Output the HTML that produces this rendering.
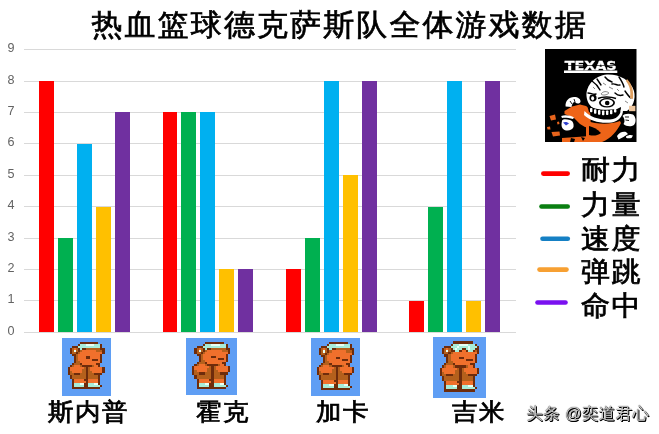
<!DOCTYPE html>
<html><head><meta charset="utf-8">
<style>
html,body{margin:0;padding:0;background:#fff;}
body{width:659px;height:434px;overflow:hidden;position:relative;font-family:"Liberation Sans","WenQuanYi Zen Hei","Noto Sans CJK SC",sans-serif;}
.abs{position:absolute;}
#title{position:absolute;left:91.5px;top:0px;transform:scaleY(0.97);transform-origin:50% 50%;font-size:31px;letter-spacing:2.1px;line-height:50px;color:#000;white-space:nowrap;font-family:"Liberation Sans","WenQuanYi Zen Hei","Noto Sans CJK SC",sans-serif;-webkit-text-stroke:0.7px #000;}
#chart{position:absolute;left:0;top:0;}
.sp{position:absolute;}
.cat{position:absolute;top:387px;transform:scaleY(0.94);transform-origin:50% 50%;font-size:25.5px;letter-spacing:1.5px;line-height:50px;color:#000;white-space:nowrap;font-family:"Liberation Sans","WenQuanYi Zen Hei","Noto Sans CJK SC",sans-serif;-webkit-text-stroke:0.8px #000;}
.leg{position:absolute;left:581px;transform:scaleY(0.95);transform-origin:50% 50%;font-size:29px;letter-spacing:1.5px;line-height:50px;color:#000;white-space:nowrap;font-family:"Liberation Sans","WenQuanYi Zen Hei","Noto Sans CJK SC",sans-serif;-webkit-text-stroke:0.8px #000;}
#wm{position:absolute;left:526.5px;top:400.5px;font-size:16.4px;letter-spacing:0.4px;line-height:24px;color:#c8c8c8;white-space:nowrap;font-family:"Liberation Sans","WenQuanYi Zen Hei","Noto Sans CJK SC",sans-serif;text-shadow:1px 1px 0 #000,0.5px 0.5px 0 #000,0 0 1px #000;}
</style></head><body>
<div id="title">热血篮球德克萨斯队全体游戏数据</div>
<svg id="chart" width="659" height="434" viewBox="0 0 659 434">
<g shape-rendering="crispEdges"><rect x="24" y="332" width="492" height="1" fill="#d9d9d9"/><rect x="24" y="300" width="492" height="1" fill="#d9d9d9"/><rect x="24" y="269" width="492" height="1" fill="#d9d9d9"/><rect x="24" y="238" width="492" height="1" fill="#d9d9d9"/><rect x="24" y="206" width="492" height="1" fill="#d9d9d9"/><rect x="24" y="175" width="492" height="1" fill="#d9d9d9"/><rect x="24" y="143" width="492" height="1" fill="#d9d9d9"/><rect x="24" y="112" width="492" height="1" fill="#d9d9d9"/><rect x="24" y="81" width="492" height="1" fill="#d9d9d9"/><rect x="24" y="49" width="492" height="1" fill="#d9d9d9"/>
<rect x="39" y="81" width="15" height="251" fill="#FF0000"/><rect x="58" y="238" width="15" height="94" fill="#00B050"/><rect x="77" y="144" width="15" height="188" fill="#00B0F0"/><rect x="96" y="207" width="15" height="125" fill="#FFC000"/><rect x="115" y="112" width="15" height="220" fill="#7030A0"/><rect x="163" y="112" width="14" height="220" fill="#FF0000"/><rect x="181" y="112" width="15" height="220" fill="#00B050"/><rect x="200" y="112" width="15" height="220" fill="#00B0F0"/><rect x="219" y="269" width="15" height="63" fill="#FFC000"/><rect x="238" y="269" width="15" height="63" fill="#7030A0"/><rect x="286" y="269" width="15" height="63" fill="#FF0000"/><rect x="305" y="238" width="15" height="94" fill="#00B050"/><rect x="324" y="81" width="15" height="251" fill="#00B0F0"/><rect x="343" y="175" width="15" height="157" fill="#FFC000"/><rect x="362" y="81" width="15" height="251" fill="#7030A0"/><rect x="409" y="301" width="15" height="31" fill="#FF0000"/><rect x="428" y="207" width="15" height="125" fill="#00B050"/><rect x="447" y="81" width="15" height="251" fill="#00B0F0"/><rect x="466" y="301" width="15" height="31" fill="#FFC000"/><rect x="485" y="81" width="15" height="251" fill="#7030A0"/></g>
<g font-family="Liberation Sans, sans-serif" font-size="12.6" fill="#636363"><text x="14.6" y="335.00" text-anchor="end">0</text><text x="14.6" y="303.00" text-anchor="end">1</text><text x="14.6" y="272.00" text-anchor="end">2</text><text x="14.6" y="241.00" text-anchor="end">3</text><text x="14.6" y="209.00" text-anchor="end">4</text><text x="14.6" y="178.00" text-anchor="end">5</text><text x="14.6" y="146.00" text-anchor="end">6</text><text x="14.6" y="115.00" text-anchor="end">7</text><text x="14.6" y="84.00" text-anchor="end">8</text><text x="14.6" y="52.00" text-anchor="end">9</text></g>
<g stroke-linecap="round" stroke-width="4.6" fill="none">
<line x1="543.3" y1="173.6" x2="567.7" y2="173.6" stroke="#ff0000"/>
<line x1="541.5" y1="206.5" x2="567.7" y2="206.5" stroke="#0a7f12"/>
<line x1="542.5" y1="238.7" x2="567.8" y2="238.7" stroke="#1580c4"/>
<line x1="539.5" y1="269.6" x2="566.5" y2="269.6" stroke="#f7a032"/>
<line x1="537.5" y1="302.5" x2="565.5" y2="302.5" stroke="#7a10f0"/>
</g>
</svg>
<svg class="sp" style="left:62.3px;top:338px;width:48.6px;height:57.5px" viewBox="0 0 24 28" preserveAspectRatio="none" shape-rendering="crispEdges"><rect width="24" height="28" fill="#5f9ef4"/><rect x="9" y="2" width="9" height="1" fill="#6e2c0c"/><rect x="8" y="3" width="1" height="1" fill="#6e2c0c"/><rect x="9" y="3" width="3" height="1" fill="#a8ecd8"/><rect x="12" y="3" width="4" height="1" fill="#e8fff4"/><rect x="16" y="3" width="3" height="1" fill="#a8ecd8"/><rect x="19" y="3" width="1" height="1" fill="#6e2c0c"/><rect x="5" y="4" width="3" height="1" fill="#6e2c0c"/><rect x="8" y="4" width="11" height="1" fill="#a8ecd8"/><rect x="19" y="4" width="1" height="1" fill="#6e2c0c"/><rect x="4" y="5" width="1" height="1" fill="#6e2c0c"/><rect x="5" y="5" width="1" height="1" fill="#b4601c"/><rect x="6" y="5" width="1" height="1" fill="#f0702c"/><rect x="7" y="5" width="1" height="1" fill="#b4601c"/><rect x="8" y="5" width="1" height="1" fill="#6e2c0c"/><rect x="9" y="5" width="1" height="1" fill="#a8ecd8"/><rect x="10" y="5" width="2" height="1" fill="#6e2c0c"/><rect x="12" y="5" width="7" height="1" fill="#b4601c"/><rect x="19" y="5" width="2" height="1" fill="#6e2c0c"/><rect x="4" y="6" width="1" height="1" fill="#6e2c0c"/><rect x="5" y="6" width="1" height="1" fill="#b4601c"/><rect x="6" y="6" width="1" height="1" fill="#e8fff4"/><rect x="7" y="6" width="1" height="1" fill="#b4601c"/><rect x="8" y="6" width="1" height="1" fill="#6e2c0c"/><rect x="9" y="6" width="1" height="1" fill="#b4601c"/><rect x="10" y="6" width="7" height="1" fill="#f0702c"/><rect x="17" y="6" width="3" height="1" fill="#b4601c"/><rect x="20" y="6" width="1" height="1" fill="#6e2c0c"/><rect x="4" y="7" width="1" height="1" fill="#6e2c0c"/><rect x="5" y="7" width="2" height="1" fill="#b4601c"/><rect x="7" y="7" width="1" height="1" fill="#6e2c0c"/><rect x="8" y="7" width="1" height="1" fill="#b4601c"/><rect x="9" y="7" width="11" height="1" fill="#f0702c"/><rect x="20" y="7" width="1" height="1" fill="#6e2c0c"/><rect x="5" y="8" width="2" height="1" fill="#6e2c0c"/><rect x="7" y="8" width="1" height="1" fill="#b4601c"/><rect x="8" y="8" width="11" height="1" fill="#f0702c"/><rect x="19" y="8" width="1" height="1" fill="#6e2c0c"/><rect x="6" y="9" width="1" height="1" fill="#6e2c0c"/><rect x="7" y="9" width="1" height="1" fill="#b4601c"/><rect x="8" y="9" width="4" height="1" fill="#f0702c"/><rect x="12" y="9" width="2" height="1" fill="#6e2c0c"/><rect x="14" y="9" width="5" height="1" fill="#f0702c"/><rect x="19" y="9" width="1" height="1" fill="#6e2c0c"/><rect x="6" y="10" width="1" height="1" fill="#6e2c0c"/><rect x="7" y="10" width="1" height="1" fill="#b4601c"/><rect x="8" y="10" width="7" height="1" fill="#f0702c"/><rect x="15" y="10" width="3" height="1" fill="#6e2c0c"/><rect x="18" y="10" width="1" height="1" fill="#f0702c"/><rect x="19" y="10" width="1" height="1" fill="#6e2c0c"/><rect x="6" y="11" width="1" height="1" fill="#6e2c0c"/><rect x="7" y="11" width="2" height="1" fill="#b4601c"/><rect x="9" y="11" width="10" height="1" fill="#f0702c"/><rect x="19" y="11" width="1" height="1" fill="#6e2c0c"/><rect x="5" y="12" width="1" height="1" fill="#6e2c0c"/><rect x="6" y="12" width="3" height="1" fill="#b4601c"/><rect x="9" y="12" width="1" height="1" fill="#6e2c0c"/><rect x="10" y="12" width="7" height="1" fill="#f0702c"/><rect x="17" y="12" width="2" height="1" fill="#6e2c0c"/><rect x="4" y="13" width="1" height="1" fill="#6e2c0c"/><rect x="5" y="13" width="1" height="1" fill="#b4601c"/><rect x="6" y="13" width="3" height="1" fill="#f0702c"/><rect x="9" y="13" width="1" height="1" fill="#b4601c"/><rect x="10" y="13" width="5" height="1" fill="#6e2c0c"/><rect x="15" y="13" width="1" height="1" fill="#b4601c"/><rect x="16" y="13" width="2" height="1" fill="#f0702c"/><rect x="18" y="13" width="1" height="1" fill="#6e2c0c"/><rect x="3" y="14" width="1" height="1" fill="#6e2c0c"/><rect x="4" y="14" width="7" height="1" fill="#f0702c"/><rect x="11" y="14" width="1" height="1" fill="#b4601c"/><rect x="12" y="14" width="1" height="1" fill="#6e2c0c"/><rect x="13" y="14" width="1" height="1" fill="#b4601c"/><rect x="14" y="14" width="6" height="1" fill="#f0702c"/><rect x="20" y="14" width="1" height="1" fill="#6e2c0c"/><rect x="3" y="15" width="1" height="1" fill="#6e2c0c"/><rect x="4" y="15" width="6" height="1" fill="#f0702c"/><rect x="10" y="15" width="2" height="1" fill="#b4601c"/><rect x="12" y="15" width="1" height="1" fill="#6e2c0c"/><rect x="13" y="15" width="1" height="1" fill="#b4601c"/><rect x="14" y="15" width="6" height="1" fill="#f0702c"/><rect x="20" y="15" width="1" height="1" fill="#6e2c0c"/><rect x="3" y="16" width="1" height="1" fill="#6e2c0c"/><rect x="4" y="16" width="1" height="1" fill="#b4601c"/><rect x="5" y="16" width="5" height="1" fill="#f0702c"/><rect x="10" y="16" width="2" height="1" fill="#b4601c"/><rect x="12" y="16" width="1" height="1" fill="#6e2c0c"/><rect x="13" y="16" width="2" height="1" fill="#b4601c"/><rect x="15" y="16" width="5" height="1" fill="#f0702c"/><rect x="20" y="16" width="1" height="1" fill="#6e2c0c"/><rect x="3" y="17" width="1" height="1" fill="#6e2c0c"/><rect x="4" y="17" width="2" height="1" fill="#b4601c"/><rect x="6" y="17" width="3" height="1" fill="#6e2c0c"/><rect x="9" y="17" width="3" height="1" fill="#b4601c"/><rect x="12" y="17" width="1" height="1" fill="#6e2c0c"/><rect x="13" y="17" width="3" height="1" fill="#b4601c"/><rect x="16" y="17" width="4" height="1" fill="#6e2c0c"/><rect x="4" y="18" width="1" height="1" fill="#6e2c0c"/><rect x="5" y="18" width="7" height="1" fill="#b4601c"/><rect x="12" y="18" width="1" height="1" fill="#6e2c0c"/><rect x="13" y="18" width="5" height="1" fill="#b4601c"/><rect x="18" y="18" width="1" height="1" fill="#6e2c0c"/><rect x="4" y="19" width="1" height="1" fill="#6e2c0c"/><rect x="5" y="19" width="7" height="1" fill="#b4601c"/><rect x="12" y="19" width="1" height="1" fill="#6e2c0c"/><rect x="13" y="19" width="5" height="1" fill="#b4601c"/><rect x="18" y="19" width="1" height="1" fill="#6e2c0c"/><rect x="5" y="20" width="1" height="1" fill="#6e2c0c"/><rect x="6" y="20" width="5" height="1" fill="#f0702c"/><rect x="11" y="20" width="2" height="1" fill="#6e2c0c"/><rect x="13" y="20" width="5" height="1" fill="#f0702c"/><rect x="18" y="20" width="1" height="1" fill="#6e2c0c"/><rect x="5" y="21" width="1" height="1" fill="#6e2c0c"/><rect x="6" y="21" width="6" height="1" fill="#f0702c"/><rect x="12" y="21" width="1" height="1" fill="#6e2c0c"/><rect x="13" y="21" width="5" height="1" fill="#f0702c"/><rect x="18" y="21" width="1" height="1" fill="#6e2c0c"/><rect x="5" y="22" width="1" height="1" fill="#6e2c0c"/><rect x="6" y="22" width="3" height="1" fill="#a8ecd8"/><rect x="9" y="22" width="2" height="1" fill="#e8fff4"/><rect x="11" y="22" width="2" height="1" fill="#6e2c0c"/><rect x="13" y="22" width="3" height="1" fill="#a8ecd8"/><rect x="16" y="22" width="2" height="1" fill="#e8fff4"/><rect x="18" y="22" width="1" height="1" fill="#6e2c0c"/><rect x="5" y="23" width="1" height="1" fill="#6e2c0c"/><rect x="6" y="23" width="5" height="1" fill="#a8ecd8"/><rect x="11" y="23" width="2" height="1" fill="#6e2c0c"/><rect x="13" y="23" width="6" height="1" fill="#a8ecd8"/><rect x="19" y="23" width="1" height="1" fill="#6e2c0c"/><rect x="5" y="24" width="14" height="1" fill="#6e2c0c"/></svg><svg class="sp" style="left:186px;top:338px;width:50.8px;height:56.8px" viewBox="0 0 24 28" preserveAspectRatio="none" shape-rendering="crispEdges"><rect width="24" height="28" fill="#5f9ef4"/><rect x="9" y="2" width="9" height="1" fill="#6e2c0c"/><rect x="8" y="3" width="1" height="1" fill="#6e2c0c"/><rect x="9" y="3" width="3" height="1" fill="#a8ecd8"/><rect x="12" y="3" width="4" height="1" fill="#e8fff4"/><rect x="16" y="3" width="3" height="1" fill="#a8ecd8"/><rect x="19" y="3" width="1" height="1" fill="#6e2c0c"/><rect x="5" y="4" width="3" height="1" fill="#6e2c0c"/><rect x="8" y="4" width="11" height="1" fill="#a8ecd8"/><rect x="19" y="4" width="1" height="1" fill="#6e2c0c"/><rect x="4" y="5" width="1" height="1" fill="#6e2c0c"/><rect x="5" y="5" width="1" height="1" fill="#b4601c"/><rect x="6" y="5" width="1" height="1" fill="#f0702c"/><rect x="7" y="5" width="1" height="1" fill="#b4601c"/><rect x="8" y="5" width="1" height="1" fill="#6e2c0c"/><rect x="9" y="5" width="1" height="1" fill="#a8ecd8"/><rect x="10" y="5" width="2" height="1" fill="#6e2c0c"/><rect x="12" y="5" width="7" height="1" fill="#b4601c"/><rect x="19" y="5" width="2" height="1" fill="#6e2c0c"/><rect x="4" y="6" width="1" height="1" fill="#6e2c0c"/><rect x="5" y="6" width="1" height="1" fill="#b4601c"/><rect x="6" y="6" width="1" height="1" fill="#e8fff4"/><rect x="7" y="6" width="1" height="1" fill="#b4601c"/><rect x="8" y="6" width="1" height="1" fill="#6e2c0c"/><rect x="9" y="6" width="1" height="1" fill="#b4601c"/><rect x="10" y="6" width="7" height="1" fill="#f0702c"/><rect x="17" y="6" width="3" height="1" fill="#b4601c"/><rect x="20" y="6" width="1" height="1" fill="#6e2c0c"/><rect x="4" y="7" width="1" height="1" fill="#6e2c0c"/><rect x="5" y="7" width="2" height="1" fill="#b4601c"/><rect x="7" y="7" width="1" height="1" fill="#6e2c0c"/><rect x="8" y="7" width="1" height="1" fill="#b4601c"/><rect x="9" y="7" width="11" height="1" fill="#f0702c"/><rect x="20" y="7" width="1" height="1" fill="#6e2c0c"/><rect x="5" y="8" width="2" height="1" fill="#6e2c0c"/><rect x="7" y="8" width="1" height="1" fill="#b4601c"/><rect x="8" y="8" width="11" height="1" fill="#f0702c"/><rect x="19" y="8" width="1" height="1" fill="#6e2c0c"/><rect x="6" y="9" width="1" height="1" fill="#6e2c0c"/><rect x="7" y="9" width="1" height="1" fill="#b4601c"/><rect x="8" y="9" width="4" height="1" fill="#f0702c"/><rect x="12" y="9" width="2" height="1" fill="#6e2c0c"/><rect x="14" y="9" width="5" height="1" fill="#f0702c"/><rect x="19" y="9" width="1" height="1" fill="#6e2c0c"/><rect x="6" y="10" width="1" height="1" fill="#6e2c0c"/><rect x="7" y="10" width="1" height="1" fill="#b4601c"/><rect x="8" y="10" width="7" height="1" fill="#f0702c"/><rect x="15" y="10" width="3" height="1" fill="#6e2c0c"/><rect x="18" y="10" width="1" height="1" fill="#f0702c"/><rect x="19" y="10" width="1" height="1" fill="#6e2c0c"/><rect x="6" y="11" width="1" height="1" fill="#6e2c0c"/><rect x="7" y="11" width="2" height="1" fill="#b4601c"/><rect x="9" y="11" width="10" height="1" fill="#f0702c"/><rect x="19" y="11" width="1" height="1" fill="#6e2c0c"/><rect x="5" y="12" width="1" height="1" fill="#6e2c0c"/><rect x="6" y="12" width="3" height="1" fill="#b4601c"/><rect x="9" y="12" width="1" height="1" fill="#6e2c0c"/><rect x="10" y="12" width="7" height="1" fill="#f0702c"/><rect x="17" y="12" width="2" height="1" fill="#6e2c0c"/><rect x="4" y="13" width="1" height="1" fill="#6e2c0c"/><rect x="5" y="13" width="1" height="1" fill="#b4601c"/><rect x="6" y="13" width="3" height="1" fill="#f0702c"/><rect x="9" y="13" width="1" height="1" fill="#b4601c"/><rect x="10" y="13" width="5" height="1" fill="#6e2c0c"/><rect x="15" y="13" width="1" height="1" fill="#b4601c"/><rect x="16" y="13" width="2" height="1" fill="#f0702c"/><rect x="18" y="13" width="1" height="1" fill="#6e2c0c"/><rect x="3" y="14" width="1" height="1" fill="#6e2c0c"/><rect x="4" y="14" width="7" height="1" fill="#f0702c"/><rect x="11" y="14" width="1" height="1" fill="#b4601c"/><rect x="12" y="14" width="1" height="1" fill="#6e2c0c"/><rect x="13" y="14" width="1" height="1" fill="#b4601c"/><rect x="14" y="14" width="6" height="1" fill="#f0702c"/><rect x="20" y="14" width="1" height="1" fill="#6e2c0c"/><rect x="3" y="15" width="1" height="1" fill="#6e2c0c"/><rect x="4" y="15" width="6" height="1" fill="#f0702c"/><rect x="10" y="15" width="2" height="1" fill="#b4601c"/><rect x="12" y="15" width="1" height="1" fill="#6e2c0c"/><rect x="13" y="15" width="1" height="1" fill="#b4601c"/><rect x="14" y="15" width="6" height="1" fill="#f0702c"/><rect x="20" y="15" width="1" height="1" fill="#6e2c0c"/><rect x="3" y="16" width="1" height="1" fill="#6e2c0c"/><rect x="4" y="16" width="1" height="1" fill="#b4601c"/><rect x="5" y="16" width="5" height="1" fill="#f0702c"/><rect x="10" y="16" width="2" height="1" fill="#b4601c"/><rect x="12" y="16" width="1" height="1" fill="#6e2c0c"/><rect x="13" y="16" width="2" height="1" fill="#b4601c"/><rect x="15" y="16" width="5" height="1" fill="#f0702c"/><rect x="20" y="16" width="1" height="1" fill="#6e2c0c"/><rect x="3" y="17" width="1" height="1" fill="#6e2c0c"/><rect x="4" y="17" width="2" height="1" fill="#b4601c"/><rect x="6" y="17" width="3" height="1" fill="#6e2c0c"/><rect x="9" y="17" width="3" height="1" fill="#b4601c"/><rect x="12" y="17" width="1" height="1" fill="#6e2c0c"/><rect x="13" y="17" width="3" height="1" fill="#b4601c"/><rect x="16" y="17" width="4" height="1" fill="#6e2c0c"/><rect x="4" y="18" width="1" height="1" fill="#6e2c0c"/><rect x="5" y="18" width="7" height="1" fill="#b4601c"/><rect x="12" y="18" width="1" height="1" fill="#6e2c0c"/><rect x="13" y="18" width="5" height="1" fill="#b4601c"/><rect x="18" y="18" width="1" height="1" fill="#6e2c0c"/><rect x="4" y="19" width="1" height="1" fill="#6e2c0c"/><rect x="5" y="19" width="7" height="1" fill="#b4601c"/><rect x="12" y="19" width="1" height="1" fill="#6e2c0c"/><rect x="13" y="19" width="5" height="1" fill="#b4601c"/><rect x="18" y="19" width="1" height="1" fill="#6e2c0c"/><rect x="5" y="20" width="1" height="1" fill="#6e2c0c"/><rect x="6" y="20" width="5" height="1" fill="#f0702c"/><rect x="11" y="20" width="2" height="1" fill="#6e2c0c"/><rect x="13" y="20" width="5" height="1" fill="#f0702c"/><rect x="18" y="20" width="1" height="1" fill="#6e2c0c"/><rect x="5" y="21" width="1" height="1" fill="#6e2c0c"/><rect x="6" y="21" width="6" height="1" fill="#f0702c"/><rect x="12" y="21" width="1" height="1" fill="#6e2c0c"/><rect x="13" y="21" width="5" height="1" fill="#f0702c"/><rect x="18" y="21" width="1" height="1" fill="#6e2c0c"/><rect x="5" y="22" width="1" height="1" fill="#6e2c0c"/><rect x="6" y="22" width="3" height="1" fill="#a8ecd8"/><rect x="9" y="22" width="2" height="1" fill="#e8fff4"/><rect x="11" y="22" width="2" height="1" fill="#6e2c0c"/><rect x="13" y="22" width="3" height="1" fill="#a8ecd8"/><rect x="16" y="22" width="2" height="1" fill="#e8fff4"/><rect x="18" y="22" width="1" height="1" fill="#6e2c0c"/><rect x="5" y="23" width="1" height="1" fill="#6e2c0c"/><rect x="6" y="23" width="5" height="1" fill="#a8ecd8"/><rect x="11" y="23" width="2" height="1" fill="#6e2c0c"/><rect x="13" y="23" width="6" height="1" fill="#a8ecd8"/><rect x="19" y="23" width="1" height="1" fill="#6e2c0c"/><rect x="5" y="24" width="14" height="1" fill="#6e2c0c"/></svg><svg class="sp" style="left:311.4px;top:338px;width:49.3px;height:58.3px" viewBox="0 0 24 28" preserveAspectRatio="none" shape-rendering="crispEdges"><rect width="24" height="28" fill="#5f9ef4"/><rect x="9" y="2" width="9" height="1" fill="#6e2c0c"/><rect x="8" y="3" width="1" height="1" fill="#6e2c0c"/><rect x="9" y="3" width="3" height="1" fill="#a8ecd8"/><rect x="12" y="3" width="4" height="1" fill="#e8fff4"/><rect x="16" y="3" width="3" height="1" fill="#a8ecd8"/><rect x="19" y="3" width="1" height="1" fill="#6e2c0c"/><rect x="5" y="4" width="3" height="1" fill="#6e2c0c"/><rect x="8" y="4" width="11" height="1" fill="#a8ecd8"/><rect x="19" y="4" width="1" height="1" fill="#6e2c0c"/><rect x="4" y="5" width="1" height="1" fill="#6e2c0c"/><rect x="5" y="5" width="1" height="1" fill="#b4601c"/><rect x="6" y="5" width="1" height="1" fill="#f0702c"/><rect x="7" y="5" width="1" height="1" fill="#b4601c"/><rect x="8" y="5" width="1" height="1" fill="#6e2c0c"/><rect x="9" y="5" width="1" height="1" fill="#a8ecd8"/><rect x="10" y="5" width="2" height="1" fill="#6e2c0c"/><rect x="12" y="5" width="7" height="1" fill="#b4601c"/><rect x="19" y="5" width="2" height="1" fill="#6e2c0c"/><rect x="4" y="6" width="1" height="1" fill="#6e2c0c"/><rect x="5" y="6" width="1" height="1" fill="#b4601c"/><rect x="6" y="6" width="1" height="1" fill="#e8fff4"/><rect x="7" y="6" width="1" height="1" fill="#b4601c"/><rect x="8" y="6" width="1" height="1" fill="#6e2c0c"/><rect x="9" y="6" width="1" height="1" fill="#b4601c"/><rect x="10" y="6" width="7" height="1" fill="#f0702c"/><rect x="17" y="6" width="3" height="1" fill="#b4601c"/><rect x="20" y="6" width="1" height="1" fill="#6e2c0c"/><rect x="4" y="7" width="1" height="1" fill="#6e2c0c"/><rect x="5" y="7" width="2" height="1" fill="#b4601c"/><rect x="7" y="7" width="1" height="1" fill="#6e2c0c"/><rect x="8" y="7" width="1" height="1" fill="#b4601c"/><rect x="9" y="7" width="11" height="1" fill="#f0702c"/><rect x="20" y="7" width="1" height="1" fill="#6e2c0c"/><rect x="5" y="8" width="2" height="1" fill="#6e2c0c"/><rect x="7" y="8" width="1" height="1" fill="#b4601c"/><rect x="8" y="8" width="11" height="1" fill="#f0702c"/><rect x="19" y="8" width="1" height="1" fill="#6e2c0c"/><rect x="6" y="9" width="1" height="1" fill="#6e2c0c"/><rect x="7" y="9" width="1" height="1" fill="#b4601c"/><rect x="8" y="9" width="4" height="1" fill="#f0702c"/><rect x="12" y="9" width="2" height="1" fill="#6e2c0c"/><rect x="14" y="9" width="5" height="1" fill="#f0702c"/><rect x="19" y="9" width="1" height="1" fill="#6e2c0c"/><rect x="6" y="10" width="1" height="1" fill="#6e2c0c"/><rect x="7" y="10" width="1" height="1" fill="#b4601c"/><rect x="8" y="10" width="7" height="1" fill="#f0702c"/><rect x="15" y="10" width="3" height="1" fill="#6e2c0c"/><rect x="18" y="10" width="1" height="1" fill="#f0702c"/><rect x="19" y="10" width="1" height="1" fill="#6e2c0c"/><rect x="6" y="11" width="1" height="1" fill="#6e2c0c"/><rect x="7" y="11" width="2" height="1" fill="#b4601c"/><rect x="9" y="11" width="10" height="1" fill="#f0702c"/><rect x="19" y="11" width="1" height="1" fill="#6e2c0c"/><rect x="5" y="12" width="1" height="1" fill="#6e2c0c"/><rect x="6" y="12" width="3" height="1" fill="#b4601c"/><rect x="9" y="12" width="1" height="1" fill="#6e2c0c"/><rect x="10" y="12" width="7" height="1" fill="#f0702c"/><rect x="17" y="12" width="2" height="1" fill="#6e2c0c"/><rect x="4" y="13" width="1" height="1" fill="#6e2c0c"/><rect x="5" y="13" width="1" height="1" fill="#b4601c"/><rect x="6" y="13" width="3" height="1" fill="#f0702c"/><rect x="9" y="13" width="1" height="1" fill="#b4601c"/><rect x="10" y="13" width="5" height="1" fill="#6e2c0c"/><rect x="15" y="13" width="1" height="1" fill="#b4601c"/><rect x="16" y="13" width="2" height="1" fill="#f0702c"/><rect x="18" y="13" width="1" height="1" fill="#6e2c0c"/><rect x="3" y="14" width="1" height="1" fill="#6e2c0c"/><rect x="4" y="14" width="7" height="1" fill="#f0702c"/><rect x="11" y="14" width="1" height="1" fill="#b4601c"/><rect x="12" y="14" width="1" height="1" fill="#6e2c0c"/><rect x="13" y="14" width="1" height="1" fill="#b4601c"/><rect x="14" y="14" width="6" height="1" fill="#f0702c"/><rect x="20" y="14" width="1" height="1" fill="#6e2c0c"/><rect x="3" y="15" width="1" height="1" fill="#6e2c0c"/><rect x="4" y="15" width="6" height="1" fill="#f0702c"/><rect x="10" y="15" width="2" height="1" fill="#b4601c"/><rect x="12" y="15" width="1" height="1" fill="#6e2c0c"/><rect x="13" y="15" width="1" height="1" fill="#b4601c"/><rect x="14" y="15" width="6" height="1" fill="#f0702c"/><rect x="20" y="15" width="1" height="1" fill="#6e2c0c"/><rect x="3" y="16" width="1" height="1" fill="#6e2c0c"/><rect x="4" y="16" width="1" height="1" fill="#b4601c"/><rect x="5" y="16" width="5" height="1" fill="#f0702c"/><rect x="10" y="16" width="2" height="1" fill="#b4601c"/><rect x="12" y="16" width="1" height="1" fill="#6e2c0c"/><rect x="13" y="16" width="2" height="1" fill="#b4601c"/><rect x="15" y="16" width="5" height="1" fill="#f0702c"/><rect x="20" y="16" width="1" height="1" fill="#6e2c0c"/><rect x="3" y="17" width="1" height="1" fill="#6e2c0c"/><rect x="4" y="17" width="2" height="1" fill="#b4601c"/><rect x="6" y="17" width="3" height="1" fill="#6e2c0c"/><rect x="9" y="17" width="3" height="1" fill="#b4601c"/><rect x="12" y="17" width="1" height="1" fill="#6e2c0c"/><rect x="13" y="17" width="3" height="1" fill="#b4601c"/><rect x="16" y="17" width="4" height="1" fill="#6e2c0c"/><rect x="4" y="18" width="1" height="1" fill="#6e2c0c"/><rect x="5" y="18" width="7" height="1" fill="#b4601c"/><rect x="12" y="18" width="1" height="1" fill="#6e2c0c"/><rect x="13" y="18" width="5" height="1" fill="#b4601c"/><rect x="18" y="18" width="1" height="1" fill="#6e2c0c"/><rect x="4" y="19" width="1" height="1" fill="#6e2c0c"/><rect x="5" y="19" width="7" height="1" fill="#b4601c"/><rect x="12" y="19" width="1" height="1" fill="#6e2c0c"/><rect x="13" y="19" width="5" height="1" fill="#b4601c"/><rect x="18" y="19" width="1" height="1" fill="#6e2c0c"/><rect x="5" y="20" width="1" height="1" fill="#6e2c0c"/><rect x="6" y="20" width="5" height="1" fill="#f0702c"/><rect x="11" y="20" width="2" height="1" fill="#6e2c0c"/><rect x="13" y="20" width="5" height="1" fill="#f0702c"/><rect x="18" y="20" width="1" height="1" fill="#6e2c0c"/><rect x="5" y="21" width="1" height="1" fill="#6e2c0c"/><rect x="6" y="21" width="6" height="1" fill="#f0702c"/><rect x="12" y="21" width="1" height="1" fill="#6e2c0c"/><rect x="13" y="21" width="5" height="1" fill="#f0702c"/><rect x="18" y="21" width="1" height="1" fill="#6e2c0c"/><rect x="5" y="22" width="1" height="1" fill="#6e2c0c"/><rect x="6" y="22" width="3" height="1" fill="#a8ecd8"/><rect x="9" y="22" width="2" height="1" fill="#e8fff4"/><rect x="11" y="22" width="2" height="1" fill="#6e2c0c"/><rect x="13" y="22" width="3" height="1" fill="#a8ecd8"/><rect x="16" y="22" width="2" height="1" fill="#e8fff4"/><rect x="18" y="22" width="1" height="1" fill="#6e2c0c"/><rect x="5" y="23" width="1" height="1" fill="#6e2c0c"/><rect x="6" y="23" width="5" height="1" fill="#a8ecd8"/><rect x="11" y="23" width="2" height="1" fill="#6e2c0c"/><rect x="13" y="23" width="6" height="1" fill="#a8ecd8"/><rect x="19" y="23" width="1" height="1" fill="#6e2c0c"/><rect x="5" y="24" width="14" height="1" fill="#6e2c0c"/></svg><svg class="sp" style="left:433px;top:336.6px;width:52.7px;height:61.1px" viewBox="0 0 24 28" preserveAspectRatio="none" shape-rendering="crispEdges"><rect width="24" height="28" fill="#5f9ef4"/><rect x="9" y="2" width="9" height="1" fill="#6e2c0c"/><rect x="8" y="3" width="1" height="1" fill="#6e2c0c"/><rect x="9" y="3" width="3" height="1" fill="#a8ecd8"/><rect x="12" y="3" width="4" height="1" fill="#e8fff4"/><rect x="16" y="3" width="3" height="1" fill="#a8ecd8"/><rect x="19" y="3" width="1" height="1" fill="#6e2c0c"/><rect x="5" y="4" width="3" height="1" fill="#6e2c0c"/><rect x="8" y="4" width="3" height="1" fill="#a8ecd8"/><rect x="11" y="4" width="1" height="1" fill="#e8fff4"/><rect x="12" y="4" width="4" height="1" fill="#a8ecd8"/><rect x="16" y="4" width="1" height="1" fill="#e8fff4"/><rect x="17" y="4" width="3" height="1" fill="#a8ecd8"/><rect x="20" y="4" width="1" height="1" fill="#6e2c0c"/><rect x="4" y="5" width="1" height="1" fill="#6e2c0c"/><rect x="5" y="5" width="1" height="1" fill="#b4601c"/><rect x="6" y="5" width="1" height="1" fill="#f0702c"/><rect x="7" y="5" width="1" height="1" fill="#b4601c"/><rect x="8" y="5" width="1" height="1" fill="#6e2c0c"/><rect x="9" y="5" width="1" height="1" fill="#a8ecd8"/><rect x="10" y="5" width="1" height="1" fill="#e8fff4"/><rect x="11" y="5" width="2" height="1" fill="#a8ecd8"/><rect x="13" y="5" width="2" height="1" fill="#6e2c0c"/><rect x="15" y="5" width="1" height="1" fill="#a8ecd8"/><rect x="16" y="5" width="1" height="1" fill="#e8fff4"/><rect x="17" y="5" width="2" height="1" fill="#a8ecd8"/><rect x="19" y="5" width="2" height="1" fill="#6e2c0c"/><rect x="4" y="6" width="1" height="1" fill="#6e2c0c"/><rect x="5" y="6" width="1" height="1" fill="#b4601c"/><rect x="6" y="6" width="1" height="1" fill="#e8fff4"/><rect x="7" y="6" width="1" height="1" fill="#b4601c"/><rect x="8" y="6" width="2" height="1" fill="#6e2c0c"/><rect x="10" y="6" width="2" height="1" fill="#a8ecd8"/><rect x="12" y="6" width="1" height="1" fill="#6e2c0c"/><rect x="13" y="6" width="2" height="1" fill="#f0702c"/><rect x="15" y="6" width="1" height="1" fill="#6e2c0c"/><rect x="16" y="6" width="2" height="1" fill="#a8ecd8"/><rect x="18" y="6" width="1" height="1" fill="#6e2c0c"/><rect x="19" y="6" width="1" height="1" fill="#b4601c"/><rect x="20" y="6" width="1" height="1" fill="#6e2c0c"/><rect x="4" y="7" width="1" height="1" fill="#6e2c0c"/><rect x="5" y="7" width="2" height="1" fill="#b4601c"/><rect x="7" y="7" width="1" height="1" fill="#6e2c0c"/><rect x="8" y="7" width="1" height="1" fill="#b4601c"/><rect x="9" y="7" width="11" height="1" fill="#f0702c"/><rect x="20" y="7" width="1" height="1" fill="#6e2c0c"/><rect x="5" y="8" width="2" height="1" fill="#6e2c0c"/><rect x="7" y="8" width="1" height="1" fill="#b4601c"/><rect x="8" y="8" width="11" height="1" fill="#f0702c"/><rect x="19" y="8" width="1" height="1" fill="#6e2c0c"/><rect x="6" y="9" width="1" height="1" fill="#6e2c0c"/><rect x="7" y="9" width="1" height="1" fill="#b4601c"/><rect x="8" y="9" width="4" height="1" fill="#f0702c"/><rect x="12" y="9" width="2" height="1" fill="#6e2c0c"/><rect x="14" y="9" width="5" height="1" fill="#f0702c"/><rect x="19" y="9" width="1" height="1" fill="#6e2c0c"/><rect x="6" y="10" width="1" height="1" fill="#6e2c0c"/><rect x="7" y="10" width="1" height="1" fill="#b4601c"/><rect x="8" y="10" width="7" height="1" fill="#f0702c"/><rect x="15" y="10" width="3" height="1" fill="#6e2c0c"/><rect x="18" y="10" width="1" height="1" fill="#f0702c"/><rect x="19" y="10" width="1" height="1" fill="#6e2c0c"/><rect x="6" y="11" width="1" height="1" fill="#6e2c0c"/><rect x="7" y="11" width="2" height="1" fill="#b4601c"/><rect x="9" y="11" width="10" height="1" fill="#f0702c"/><rect x="19" y="11" width="1" height="1" fill="#6e2c0c"/><rect x="5" y="12" width="1" height="1" fill="#6e2c0c"/><rect x="6" y="12" width="3" height="1" fill="#b4601c"/><rect x="9" y="12" width="1" height="1" fill="#6e2c0c"/><rect x="10" y="12" width="7" height="1" fill="#f0702c"/><rect x="17" y="12" width="2" height="1" fill="#6e2c0c"/><rect x="4" y="13" width="1" height="1" fill="#6e2c0c"/><rect x="5" y="13" width="1" height="1" fill="#b4601c"/><rect x="6" y="13" width="3" height="1" fill="#f0702c"/><rect x="9" y="13" width="1" height="1" fill="#b4601c"/><rect x="10" y="13" width="5" height="1" fill="#6e2c0c"/><rect x="15" y="13" width="1" height="1" fill="#b4601c"/><rect x="16" y="13" width="2" height="1" fill="#f0702c"/><rect x="18" y="13" width="1" height="1" fill="#6e2c0c"/><rect x="3" y="14" width="1" height="1" fill="#6e2c0c"/><rect x="4" y="14" width="7" height="1" fill="#f0702c"/><rect x="11" y="14" width="1" height="1" fill="#b4601c"/><rect x="12" y="14" width="1" height="1" fill="#6e2c0c"/><rect x="13" y="14" width="1" height="1" fill="#b4601c"/><rect x="14" y="14" width="6" height="1" fill="#f0702c"/><rect x="20" y="14" width="1" height="1" fill="#6e2c0c"/><rect x="3" y="15" width="1" height="1" fill="#6e2c0c"/><rect x="4" y="15" width="6" height="1" fill="#f0702c"/><rect x="10" y="15" width="2" height="1" fill="#b4601c"/><rect x="12" y="15" width="1" height="1" fill="#6e2c0c"/><rect x="13" y="15" width="1" height="1" fill="#b4601c"/><rect x="14" y="15" width="6" height="1" fill="#f0702c"/><rect x="20" y="15" width="1" height="1" fill="#6e2c0c"/><rect x="3" y="16" width="1" height="1" fill="#6e2c0c"/><rect x="4" y="16" width="1" height="1" fill="#b4601c"/><rect x="5" y="16" width="5" height="1" fill="#f0702c"/><rect x="10" y="16" width="2" height="1" fill="#b4601c"/><rect x="12" y="16" width="1" height="1" fill="#6e2c0c"/><rect x="13" y="16" width="2" height="1" fill="#b4601c"/><rect x="15" y="16" width="5" height="1" fill="#f0702c"/><rect x="20" y="16" width="1" height="1" fill="#6e2c0c"/><rect x="3" y="17" width="1" height="1" fill="#6e2c0c"/><rect x="4" y="17" width="2" height="1" fill="#b4601c"/><rect x="6" y="17" width="3" height="1" fill="#6e2c0c"/><rect x="9" y="17" width="3" height="1" fill="#b4601c"/><rect x="12" y="17" width="1" height="1" fill="#6e2c0c"/><rect x="13" y="17" width="3" height="1" fill="#b4601c"/><rect x="16" y="17" width="4" height="1" fill="#6e2c0c"/><rect x="4" y="18" width="1" height="1" fill="#6e2c0c"/><rect x="5" y="18" width="7" height="1" fill="#b4601c"/><rect x="12" y="18" width="1" height="1" fill="#6e2c0c"/><rect x="13" y="18" width="5" height="1" fill="#b4601c"/><rect x="18" y="18" width="1" height="1" fill="#6e2c0c"/><rect x="4" y="19" width="1" height="1" fill="#6e2c0c"/><rect x="5" y="19" width="7" height="1" fill="#b4601c"/><rect x="12" y="19" width="1" height="1" fill="#6e2c0c"/><rect x="13" y="19" width="5" height="1" fill="#b4601c"/><rect x="18" y="19" width="1" height="1" fill="#6e2c0c"/><rect x="5" y="20" width="1" height="1" fill="#6e2c0c"/><rect x="6" y="20" width="5" height="1" fill="#f0702c"/><rect x="11" y="20" width="2" height="1" fill="#6e2c0c"/><rect x="13" y="20" width="5" height="1" fill="#f0702c"/><rect x="18" y="20" width="1" height="1" fill="#6e2c0c"/><rect x="5" y="21" width="1" height="1" fill="#6e2c0c"/><rect x="6" y="21" width="6" height="1" fill="#f0702c"/><rect x="12" y="21" width="1" height="1" fill="#6e2c0c"/><rect x="13" y="21" width="5" height="1" fill="#f0702c"/><rect x="18" y="21" width="1" height="1" fill="#6e2c0c"/><rect x="5" y="22" width="1" height="1" fill="#6e2c0c"/><rect x="6" y="22" width="3" height="1" fill="#a8ecd8"/><rect x="9" y="22" width="2" height="1" fill="#e8fff4"/><rect x="11" y="22" width="2" height="1" fill="#6e2c0c"/><rect x="13" y="22" width="3" height="1" fill="#a8ecd8"/><rect x="16" y="22" width="2" height="1" fill="#e8fff4"/><rect x="18" y="22" width="1" height="1" fill="#6e2c0c"/><rect x="5" y="23" width="1" height="1" fill="#6e2c0c"/><rect x="6" y="23" width="5" height="1" fill="#a8ecd8"/><rect x="11" y="23" width="2" height="1" fill="#6e2c0c"/><rect x="13" y="23" width="6" height="1" fill="#a8ecd8"/><rect x="19" y="23" width="1" height="1" fill="#6e2c0c"/><rect x="5" y="24" width="14" height="1" fill="#6e2c0c"/></svg>
<div class="cat" style="left:48px">斯内普</div>
<div class="cat" style="left:196px">霍克</div>
<div class="cat" style="left:316px">加卡</div>
<div class="cat" style="left:452px">吉米</div>
<div class="leg" style="top:144.2px">耐力</div>
<div class="leg" style="top:178.7px">力量</div>
<div class="leg" style="top:213.2px">速度</div>
<div class="leg" style="top:246.2px">弹跳</div>
<div class="leg" style="top:280.2px">命中</div>
<svg class="abs" style="left:545px;top:49px" width="91.5" height="93.4" viewBox="0 0 91.5 93.4">
<rect width="91.5" height="93.4" fill="#000"/>
<text x="45.7" y="21" text-anchor="middle" font-family="DejaVu Sans, sans-serif" font-weight="bold" font-size="11.6" fill="#fff" stroke="#fff" stroke-width="0.3" textLength="52" lengthAdjust="spacingAndGlyphs">TEXAS</text>
<rect x="19.5" y="16" width="53" height="0.9" fill="#000" opacity="0.7"/>
<path d="M19 21.6 L72.3 21.6 L72.3 23.9 L19 23.9 Z" fill="#fff"/>
<!-- orange arm -->
<path d="M19.5 62 L27 57.5 L35 55.5 L41 57 L45 60 L46 79 L40 78 L35 75 L29 69 L19.5 65 Z" fill="#ee6418"/>
<path d="M17 89 L46 87 L46 93.4 L17 93.4 Z" fill="#ee6418"/>
<!-- orange crescent -->
<path d="M41 72 C52 75 64 76 75 72 L76 74 C72 82 66 90 56 93.4 L41 93.4 Z" fill="#ee6418"/>
<path d="M44 77 C48 78 52 80 56 84 C52 87 48 87 44 86 Z" fill="#000"/>
<path d="M26 89 L30 90 L29 93.4 L25 93.4 Z M36 88 L40 89 L38 92 Z" fill="#000"/>
<!-- speckles -->
<path d="M4.5 67 L10 65.5 L11 70.5 L6 71.5 Z M6.5 83 L14.5 82.5 L15 86.5 L8 87.5 Z M2 78 L5 77.5 L5.5 80.5 L2.5 80.5 Z M12 73 L14 72.5 L14.5 75 L12.5 75.5 Z" fill="#e8641c"/>
<!-- skull -->
<path d="M41.5 47 C41 36 50 26.5 62 25.5 C74 25 86 31 89 42 C91 50 88 58 82 62 L77 62 C72 64 60 63 50 60 C45 58 42 53 41.5 47 Z" fill="#fff"/>
<g stroke="#000" stroke-width="1.4" fill="none" stroke-linecap="round">
<path d="M47 32 C50 34 53 37 55 41"/>
<path d="M52 30 L56 36"/>
<path d="M60 28 C62 31 64 32 67 33"/>
<path d="M67 35 C70 34 72 37 75 36"/>
<path d="M74 28 C76 31 78 34 79 38"/>
<path d="M80 42 C82 45 84 48 86 49"/>
<path d="M43 44 C46 44 48 46 51 45"/>
<path d="M70 44 C72 46 75 47 78 46"/>
</g>
<g stroke="#888" stroke-width="1" fill="none">
<path d="M56 45 C58 42 62 42 64 44 C62 46 58 47 56 45"/>
<path d="M64 38 L68 40 M58 34 L61 36 M72 40 L74 42 M48 38 L50 40 M80 52 L83 54"/>
</g>
<path d="M82 30 C87 35 89 42 88 50 L85 49 C86 43 85 37 81 32 Z" fill="#e0a060"/>
<!-- mouth -->
<path d="M42 56 C48 60 58 62 72 60 L76 58 C76 62 74 66 70 68 C60 70 50 68 44 63 Z" fill="#000"/>
<g fill="#fff"><rect x="45" y="59" width="2.4" height="4.3" rx="0.8"/><rect x="49" y="60.2" width="2.4" height="4.6" rx="0.8"/><rect x="53" y="61" width="2.4" height="4.8" rx="0.8"/><rect x="57" y="61.5" width="2.4" height="4.8" rx="0.8"/><rect x="61" y="61.5" width="2.4" height="4.6" rx="0.8"/><rect x="65" y="61" width="2.4" height="4.2" rx="0.8"/><rect x="69" y="60" width="2.4" height="3.6" rx="0.8"/></g>
<path d="M39.5 62 C46 69 58 72 68 70 C72 69 75 66 76 61 L78 61.5 C78 67 74 72 67 73.5 C56 75 45 72 39 66 Z" fill="#fff"/>
<!-- eyes -->
<ellipse cx="62" cy="53.8" rx="8" ry="4.8" fill="#000"/>
<ellipse cx="62" cy="53.8" rx="6.2" ry="3.5" fill="#fff"/>
<circle cx="62.2" cy="54" r="2.3" fill="#000"/>
<path d="M53 49.5 C57 47.5 66 47.5 71 49.5" stroke="#000" stroke-width="1.6" fill="none"/>
<ellipse cx="48" cy="49" rx="3.6" ry="3.4" fill="#000"/>
<ellipse cx="47.6" cy="49.3" rx="1.5" ry="2.1" fill="#fff"/>
<!-- glove -->
<path d="M20.6 57.5 C20 52 24 48 29 48 C33 48 36 50 35.5 53 C34 55 32 55 30 53 C28 53 27 55 26.5 58 Z" fill="#fff"/>
<path d="M25 52 L27 55 M29 50 L30 53" stroke="#000" stroke-width="0.9"/>
<!-- ball -->
<path d="M16.2 67 C20 65.5 26 66.5 29 68.5 L28 70 C24 69 20 68.5 17 69 Z" fill="#fff"/>
<path d="M17 72 C17 70 21 70 25 71 C28 72 29 75 28.5 78 C27.5 81 23 82.5 19.5 81 C16.5 79.5 16 76 17 72 Z" fill="#fff"/>
<path d="M18 73.5 C20 72.5 23 73 24 74.5 L21 76.5 Z" fill="#3040d0"/>
<!-- right hand -->
<path d="M77.5 67 C79 64.5 84 64 88 65.5 C91 68 91.5 73 89 76 C86 78 81 77.5 78.5 75 C80 73 80 70 77.5 67 Z" fill="#fff"/>
<path d="M80 68 L84 68 M80.5 71 L84 71.5" stroke="#000" stroke-width="0.9"/>
<!-- feet -->
<path d="M72 87 C74 83.5 78 82 81 83 L83 85 C80 87 77 89 73.5 90.5 Z M81 87.5 C83 86 86 85.5 88 86.5 L86.5 89 C84 89.5 82 89.5 81 88.5 Z" fill="#fff"/>
<rect x="84" y="56.8" width="6.4" height="5.4" fill="#f0c8a0"/>
</svg>

<div id="wm">头条 @奕道君心</div>
</body></html>
